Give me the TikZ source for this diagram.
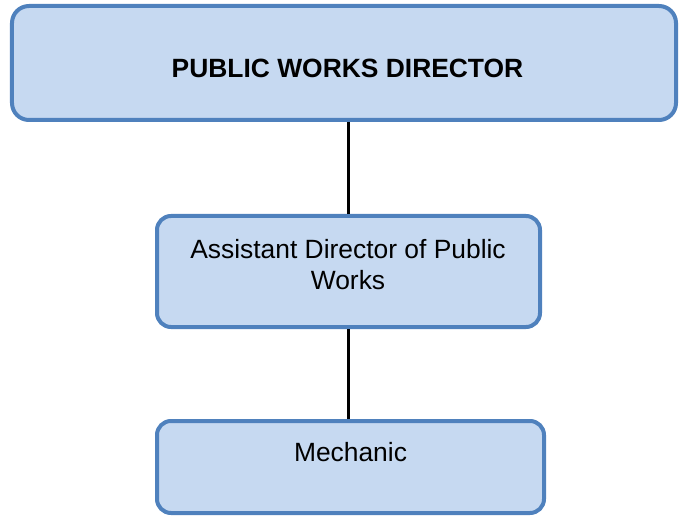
\documentclass[tikz,border=0pt]{standalone}
\usepackage{fontspec}
\setmainfont{Liberation Sans}
\definecolor{boxfill}{HTML}{C6D9F1}
\definecolor{boxline}{HTML}{4F81BD}
\begin{document}
\begin{tikzpicture}[x=1bp,y=-1bp,
  orgbox/.style={draw=boxline,fill=boxfill,line width=4bp,rectangle,inner sep=0pt},
  lbl/.style={anchor=base,inner sep=0pt,font=\fontsize{26.4bp}{30bp}\selectfont},
  link/.style={draw=black,line width=2.2bp}]
\useasboundingbox (0,0) rectangle (679,516);
\node[orgbox,rounded corners=17bp,minimum width=664bp,minimum height=114bp] (top) at (344,63) {};
\node[orgbox,rounded corners=14bp,minimum width=383bp,minimum height=111bp] (mid) at (348.5,271.5) {};
\node[orgbox,rounded corners=14bp,minimum width=387bp,minimum height=92bp] (bot) at (350.5,467) {};
\node[lbl,font=\fontsize{26.4bp}{30bp}\selectfont\bfseries] (toptxt) at (347.5,78) {PUBLIC WORKS DIRECTOR};
\node[lbl] (midtxt1) at (348,259) {Assistant Director of Public};
\node[lbl] (midtxt2) at (348,289) {Works};
\node[lbl] (bottxt) at (350.5,461) {Mechanic};
\draw[link] (mid.north |- top.south) -- (mid.north);
\draw[link] (mid.south) -- (mid.south |- bot.north);
\end{tikzpicture}
\end{document}
